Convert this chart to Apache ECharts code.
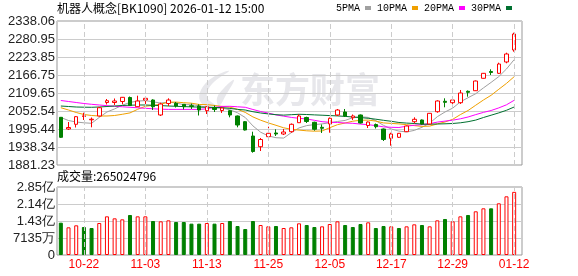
<!DOCTYPE html>
<html><head><meta charset="utf-8">
<script src="https://cdn.jsdelivr.net/npm/echarts@6/dist/echarts.min.js"></script>
<style>html,body{margin:0;padding:0;background:#fff}#c{width:578px;height:276px}</style>
</head><body><div id="c"></div>
<script>
const titleText = '机器人概念[BK1090] 2026-01-12 15:00';
const volTitleText = '成交量:265024796';
const dates = [
'2025-10-17','2025-10-20','2025-10-21','2025-10-22','2025-10-23','2025-10-24','2025-10-27','2025-10-28','2025-10-29','2025-10-30','2025-10-31',
'2025-11-03','2025-11-04','2025-11-05','2025-11-06','2025-11-07','2025-11-10','2025-11-11','2025-11-12','2025-11-13','2025-11-14',
'2025-11-17','2025-11-18','2025-11-19','2025-11-20','2025-11-21','2025-11-24','2025-11-25','2025-11-26','2025-11-27','2025-11-28',
'2025-12-01','2025-12-02','2025-12-03','2025-12-04','2025-12-05','2025-12-08','2025-12-09','2025-12-10','2025-12-11','2025-12-12',
'2025-12-15','2025-12-16','2025-12-17','2025-12-18','2025-12-19','2025-12-22','2025-12-23','2025-12-24','2025-12-25','2025-12-26',
'2025-12-29','2025-12-30','2025-12-31','2026-01-05','2026-01-06','2026-01-07','2026-01-08','2026-01-09','2026-01-12'];
const tickDates = ['2025-10-22','2025-11-03','2025-11-13','2025-11-25','2025-12-05','2025-12-17','2025-12-29','2026-01-12'];
const priceTicks = ['1881.23','1938.34','1995.44','2052.54','2109.65','2166.75','2223.85','2280.95','2338.06'];
const volTicks = ['0','7135万','1.43亿','2.14亿','2.85亿'];
const volMax = 285400000;
const maNames = ['5PMA','10PMA','20PMA','30PMA'];

const open = [2032.5,1995.4,2010.4,2035.1,2024.6,2036.7,2079.5,2079.5,2082.7,2095.4,
2066.2,2087.4,2087.4,2039.9,2076.3,2077.0,2073.8,2069.4,2068.4,2053.5,
2063.6,2054.1,2053.5,2036.7,2018.6,1973.2,1939.3,1971.0,1982.8,1979.6,
1986.9,2015.4,2031.9,2016.7,2000.8,2011.3,2039.9,2049.4,2031.3,2039.9,
2006.5,2009.7,1995.4,1965.9,1969.1,1986.9,2018.6,2024.0,2011.3,2050.3,
2083.3,2078.9,2078.9,2115.0,2116.9,2156.3,2177.9,2172.1,2208.0,2246.1];
const close = [1969.1,2000.2,2034.5,2037.3,2026.5,2063.0,2085.2,2084.3,2096.0,2070.0,
2084.3,2092.8,2066.2,2074.8,2087.4,2068.4,2066.2,2066.8,2055.7,2066.2,
2057.3,2062.1,2039.9,2008.1,1992.3,1924.1,1962.1,1981.8,1979.6,1985.9,
2010.4,2036.7,2019.2,1994.5,1997.7,2029.4,2055.7,2036.7,2036.7,2014.5,
2017.6,2002.7,1962.1,1979.6,1981.8,2005.0,2026.2,2011.3,2045.2,2084.3,
2080.1,2087.4,2109.6,2111.9,2147.7,2172.1,2174.7,2201.6,2233.4,2296.8];
const low = [1966.9,1992.3,2000.2,2024.0,2000.8,2035.1,2073.2,2071.6,2073.8,2068.4,
2065.2,2068.4,2055.7,2036.7,2068.4,2063.6,2057.3,2058.9,2038.3,2043.0,
2049.4,2046.2,2032.5,2000.8,1990.7,1920.3,1925.6,1965.9,1973.2,1976.4,
1983.7,2014.5,2014.5,1990.0,1982.8,1983.7,2036.7,2033.5,2024.0,2012.9,
1998.6,1997.0,1957.4,1942.5,1966.9,1985.9,2013.5,2009.7,2009.7,2047.1,
2064.3,2074.8,2074.8,2097.9,2116.0,2155.6,2166.8,2169.9,2203.9,2240.7];
const high = [2033.5,2017.6,2036.7,2047.1,2031.9,2065.2,2090.6,2092.2,2097.0,2098.5,
2101.1,2093.8,2089.7,2078.9,2092.8,2081.1,2074.8,2076.3,2073.8,2068.4,
2070.0,2063.6,2055.7,2038.3,2020.8,1986.9,1966.9,2002.7,1994.5,1995.4,
2012.9,2042.1,2034.5,2018.6,2009.7,2031.9,2058.9,2058.9,2041.4,2041.4,
2019.2,2012.9,1997.0,1983.7,1982.8,2006.5,2032.5,2025.6,2046.2,2086.5,
2092.8,2092.2,2119.2,2117.6,2149.3,2173.1,2184.8,2205.8,2237.5,2300.9];

const ma5 = [2031.9,2022.4,2017.6,2015.1,2013.5,2032.2,2049.4,2059.2,2070.9,2079.8,
2084.0,2085.5,2081.7,2077.6,2081.1,2077.9,2072.5,2072.8,2069.0,2064.6,
2062.4,2061.7,2056.4,2046.8,2031.9,2005.3,1985.3,1973.6,1967.8,1966.6,
1984.0,1998.9,2006.2,2009.4,2011.6,2015.4,2019.2,2022.7,2031.3,2034.5,
2032.2,2021.8,2006.9,1995.4,1988.8,1986.2,1991.0,2000.8,2013.8,2034.5,
2049.4,2061.7,2081.4,2094.7,2107.4,2125.8,2143.3,2161.7,2185.8,2215.6];
const ma10 = [2063.0,2055.7,2047.8,2041.4,2038.3,2036.7,2036.7,2038.3,2042.1,2046.5,
2057.9,2067.5,2070.3,2074.1,2080.5,2080.8,2078.9,2077.3,2073.2,2072.8,
2070.0,2067.1,2064.6,2057.9,2048.1,2033.8,2023.4,2014.8,2007.2,1999.3,
1994.5,1992.0,1989.7,1988.5,1989.1,1999.6,2009.1,2014.5,2020.2,2023.0,
2023.7,2020.5,2014.8,2013.2,2011.6,2009.1,2006.2,2003.7,2004.6,2011.6,
2017.7,2026.2,2041.1,2054.1,2070.9,2087.4,2102.4,2121.4,2140.1,2161.4];
const ma20 = [2085.9,2082.7,2079.5,2076.3,2073.8,2071.6,2069.4,2067.5,2065.9,2064.3,
2062.7,2061.1,2059.5,2058.3,2057.6,2057.6,2057.6,2057.6,2057.6,2059.5,
2064.0,2067.1,2067.5,2065.9,2064.3,2057.3,2051.0,2045.9,2040.2,2036.1,
2032.2,2029.4,2027.2,2023.0,2018.6,2016.7,2016.1,2014.5,2013.5,2011.0,
2009.1,2006.2,2002.1,2000.8,2000.2,2004.3,2007.5,2009.1,2012.3,2017.3,
2020.5,2023.4,2027.8,2033.5,2041.1,2048.1,2054.1,2062.4,2072.2,2086.5];
const ma30 = [2068.4,2066.8,2065.2,2064.6,2064.3,2065.2,2066.8,2068.4,2070.0,2070.9,
2071.6,2071.6,2070.6,2069.7,2068.4,2067.5,2066.5,2065.6,2064.9,2064.3,
2063.6,2063.3,2060.8,2057.6,2055.7,2050.3,2046.2,2043.3,2040.8,2039.5,
2040.8,2042.1,2041.4,2040.2,2039.2,2038.0,2037.0,2035.4,2033.5,2031.6,
2029.4,2026.5,2023.0,2019.9,2016.1,2014.2,2012.9,2011.0,2010.7,2011.3,
2011.9,2012.9,2015.1,2018.6,2023.7,2031.9,2039.2,2046.5,2054.8,2065.2];

const volume = [135600000,116200000,124600000,117500000,113300000,134300000,162300000,153900000,149700000,167900000,
162300000,162300000,142700000,141300000,145500000,138500000,138500000,131500000,131500000,134300000,
131500000,134300000,142700000,121700000,109100000,142700000,125900000,120300000,121700000,113300000,
116200000,132900000,125900000,117500000,120300000,130100000,141300000,125900000,117500000,130100000,
137100000,113300000,121700000,120300000,113300000,120300000,128700000,125900000,120300000,145500000,
151100000,141300000,162300000,167900000,183400000,195900000,195900000,217000000,246300000,265024796];
const volDir = [-1,1,1,-1,-1,1,1,1,1,-1, 1,1,-1,1,1,-1,-1,-1,-1,1,
-1,1,-1,-1,-1,-1,1,1,-1,1, 1,1,-1,-1,1,1,1,-1,-1,-1,
1,-1,-1,1,-1,1,1,-1,1,1, -1,1,1,-1,1,1,-1,1,1,1];

const maColors = ['#a0a0a0','#f0a000','#ff00ff','#007030'];
const maData = [ma5, ma10, ma20, ma30];

const RED = '#ff0000', GREEN = '#008000';
const L = 57, WF = 465, WD = 461;
const priceMin = parseFloat(priceTicks[0]);
const priceMax = parseFloat(priceTicks[priceTicks.length - 1]);

const dashLines = {
  silent: true, symbol: 'none', label: {show: false},
  lineStyle: {color: '#cccccc', type: [5, 3], width: 1},
  emphasis: {disabled: true},
  data: tickDates.map(d => ({xAxis: d}))
};

const chart = echarts.init(document.getElementById('c'), null, {renderer: 'canvas'});
const labelFont = {fontSize: 13, color: '#222', fontFamily: 'Liberation Sans, Arial, sans-serif'};
const WM = '#e7e7eb';

chart.setOption({
  animation: false,
  backgroundColor: '#fff',
  title: [
    {text: titleText, left: 57, top: 2, padding: 0,
     textStyle: {fontSize: 12, fontWeight: 'normal', color: '#000', fontFamily: 'Noto Sans CJK SC'}},
    {text: volTitleText, left: 57, top: 170, padding: 0,
     textStyle: {fontSize: 12, fontWeight: 'normal', color: '#000', fontFamily: 'Noto Sans CJK SC'}}
  ],
  legend: {
    data: maNames, right: 66, top: 3, padding: 0, align: 'right', icon: 'rect',
    itemWidth: 6, itemHeight: 4, itemGap: 6, selectedMode: false,
    textStyle: {fontSize: 10, color: '#000', fontFamily: 'Liberation Mono, monospace'}
  },
  graphic: [
    {type: 'text', x: 240, y: 72, z: -1, silent: true,
     style: {text: '东方财富', fontSize: 35, fontWeight: 'bold', fill: WM, fontFamily: 'Noto Sans CJK SC'}},
    {type: 'polygon', z: -1, silent: true,
     shape: {points: [[229,71],[212,78],[201,90],[200,101],[208,107],[217,107],[207,97],[212,84]], smooth: 0.4},
     style: {fill: WM}},
    {type: 'polygon', z: -1, silent: true,
     shape: {points: [[234,80],[224,88],[217,98],[219,106],[226,95]], smooth: 0.4},
     style: {fill: WM}}
  ],
  grid: [
    {left: L, top: 21, width: WF, height: 144, show: true, borderColor: '#999', borderWidth: 1},
    {left: L, top: 21, width: WD, height: 144},
    {left: L, top: 187, width: WF, height: 68, show: true, borderColor: '#999', borderWidth: 1},
    {left: L, top: 187, width: WD, height: 68}
  ],
  xAxis: [
    {gridIndex: 0, type: 'category', data: dates, show: false},
    {gridIndex: 1, type: 'category', data: dates, show: false},
    {gridIndex: 2, type: 'category', data: dates, show: false},
    {gridIndex: 3, type: 'category', data: dates,
     axisLine: {show: false}, axisTick: {show: false}, splitLine: {show: false},
     axisLabel: {interval: (i, v) => tickDates.includes(v), formatter: v => v.slice(5),
                 color: RED, fontSize: 12, margin: 4, fontFamily: 'Liberation Sans, Arial, sans-serif'}}
  ],
  yAxis: [
    {gridIndex: 0, type: 'value', min: 0, max: priceTicks.length - 1, interval: 1,
     axisLine: {show: false}, axisTick: {show: false},
     splitLine: {lineStyle: {color: '#cccccc', width: 1}},
     axisLabel: Object.assign({formatter: v => priceTicks[v], margin: 2}, labelFont)},
    {gridIndex: 1, type: 'value', min: priceMin, max: priceMax, show: false, splitLine: {show: false}},
    {gridIndex: 2, type: 'value', min: 0, max: volTicks.length - 1, interval: 1,
     axisLine: {show: false}, axisTick: {show: false},
     splitLine: {lineStyle: {color: '#cccccc', width: 1}},
     axisLabel: Object.assign({formatter: v => volTicks[v], margin: 2}, labelFont)},
    {gridIndex: 3, type: 'value', min: 0, max: volMax, show: false, splitLine: {show: false}}
  ],
  series: [
    ...maNames.map((n, k) => ({
      name: n, type: 'line', xAxisIndex: 1, yAxisIndex: 1, data: maData[k],
      color: maColors[k], showSymbol: false, symbol: 'none', z: 3,
      lineStyle: {width: 1, color: maColors[k]}, emphasis: {disabled: true}
    })),
    {type: 'candlestick', xAxisIndex: 1, yAxisIndex: 1, barWidth: 4, z: 4,
     data: dates.map((d, i) => [open[i], close[i], low[i], high[i]]),
     itemStyle: {color: '#ffffff', color0: GREEN, borderColor: RED, borderColor0: GREEN, borderWidth: 1},
     emphasis: {disabled: true},
     markLine: dashLines},
    {type: 'bar', xAxisIndex: 3, yAxisIndex: 3, barWidth: 4, z: 4,
     data: volume.map((v, i) => ({value: v, itemStyle: volDir[i] > 0
        ? {color: '#ffffff', borderColor: RED, borderWidth: 1}
        : {color: GREEN, borderColor: GREEN, borderWidth: 1}})),
     emphasis: {disabled: true},
     markLine: dashLines}
  ]
});
</script>
</body></html>
